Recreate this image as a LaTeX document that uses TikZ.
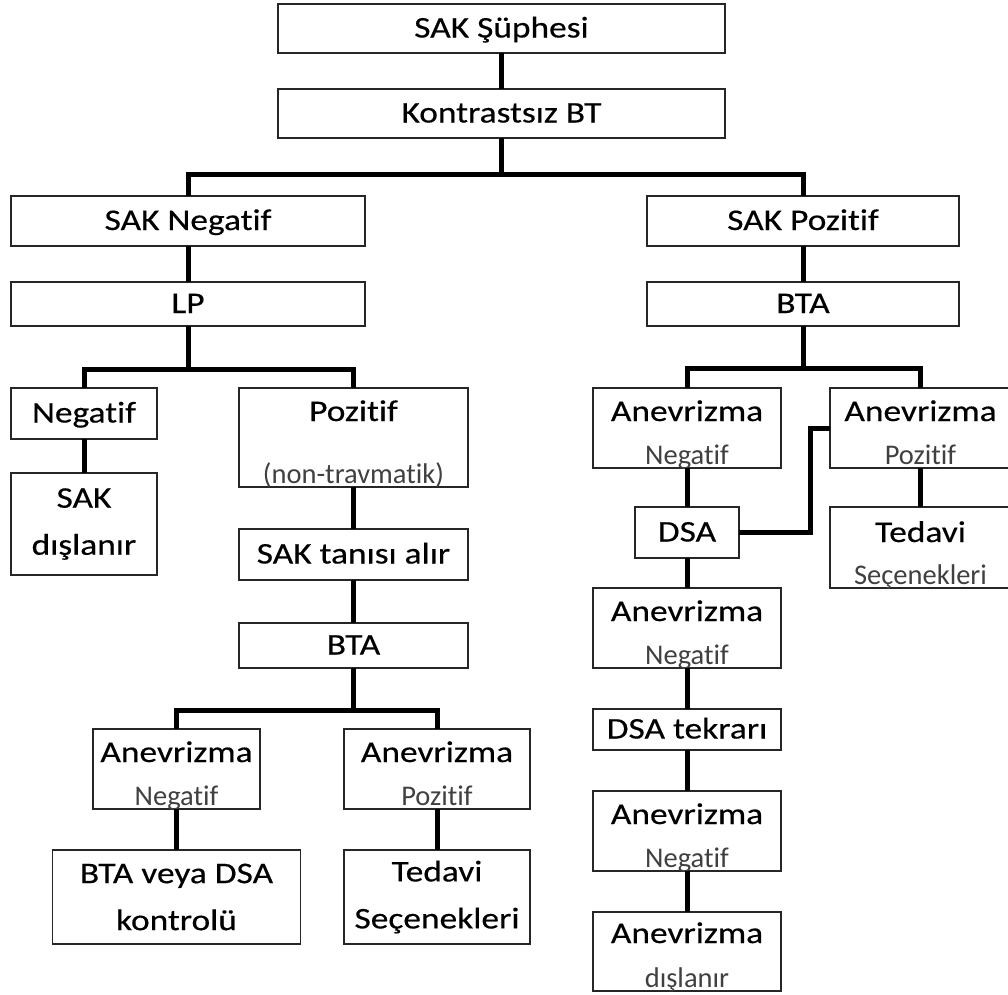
\documentclass[tikz,border=0pt]{standalone}
\usepackage{fontspec}
\setmainfont{Carlito}[FakeStretch=1.18, FakeBold=0.4, Ligatures=NoCommon]
\newfontfamily\subfont{Carlito}[Ligatures=NoCommon]
\usetikzlibrary{positioning}

\begin{document}
\begin{tikzpicture}[x=1pt, y=1pt,
                    box/.style={rectangle, draw=black!85, line width=1.6pt, outer sep=0pt, inner xsep=2pt, inner ysep=0pt, font=\fontsize{30}{47}\selectfont},
                    one/.style={box, text height=22pt, text depth=4pt},
                    two/.style={box, align=center},
                    head/.style={box, text height=33pt, text depth=47pt},
                    sub/.style={inner sep=0pt, outer sep=0pt, text height=20pt, text depth=6pt, yshift=24pt, text=black!75, font=\subfont\fontsize{28.5}{30}\selectfont},
                    link/.style={line width=5pt}]
    \useasboundingbox (0,0) rectangle (1008,-994);
    % nodes
    \node[one, minimum width=447pt, minimum height=49pt]   (sus)   [anchor=north] at (501.5,-4)   {SAK Şüphesi};
    \node[one, minimum width=447pt, minimum height=49pt]   (ct)    [below=36pt of sus]            {Kontrastsız BT};
    \node[one, minimum width=354pt, minimum height=50pt]   (neg)   [anchor=north] at (188,-196)   {SAK Negatif};
    \node[one, minimum width=312pt, minimum height=50pt]   (pos)   [right=282pt of neg]           {SAK Pozitif};
    \node[one, minimum width=354pt, minimum height=44pt]   (lp)    [below=36pt of neg]            {LP};
    \node[one, minimum width=312pt, minimum height=44pt]   (bta)   [below=36pt of pos]            {BTA};
    % left branch
    \node[one, minimum width=146pt, minimum height=51pt]   (lpneg) [anchor=north] at (84,-388)    {Negatif};
    \node[two, minimum width=146pt, minimum height=102pt]  (sakout) [below=34pt of lpneg]         {SAK\\dışlanır};
    \node[head, minimum width=229pt, text depth=66pt, label={[sub]below:(non-travmatik)}] (lppos) [anchor=north] at (353.5,-388) {Pozitif};
    \node[one, minimum width=229pt, minimum height=51pt]   (diag)  [below=42pt of lppos]          {SAK tanısı alır};
    \node[one, minimum width=229pt, minimum height=45pt]   (btal)  [below=43pt of diag]           {BTA};
    \node[head, minimum width=167pt, label={[sub]below:Negatif}] (anegA) [anchor=north] at (176.5,-729) {Anevrizma};
    \node[two, minimum width=248pt, minimum height=94pt]   (ctrlA) [below=41pt of anegA]          {BTA veya DSA\\kontrolü};
    \node[head, minimum width=186pt, label={[sub]below:Pozitif}] (aposA) [anchor=north] at (437,-729) {Anevrizma};
    \node[two, minimum width=186pt, minimum height=94pt]   (treatA) [below=41pt of aposA]         {Tedavi\\Seçenekleri};
    % right branch
    \node[head, minimum width=188pt, label={[sub]below:Negatif}] (anegB) [anchor=north] at (687,-388) {Anevrizma};
    \node[head, minimum width=181pt, label={[sub]below:Pozitif}] (aposB) [anchor=north] at (920.5,-388) {Anevrizma};
    \node[one, minimum width=104pt, minimum height=51pt]   (dsa)   [below=39pt of anegB]          {DSA};
    \node[head, minimum width=181pt, text height=35pt, text depth=46pt, label={[sub]below:Seçenekleri}] (treatB) [below=39pt of aposB] {Tedavi};
    \node[head, minimum width=188pt, label={[sub]below:Negatif}] (anegC) [below=30pt of dsa]   {Anevrizma};
    \node[one, minimum width=188pt, minimum height=41pt]   (rep)   [below=41pt of anegC]          {DSA tekrarı};
    \node[head, minimum width=188pt, label={[sub]below:Negatif}] (anegD) [below=41pt of rep]   {Anevrizma};
    \node[head, minimum width=188pt, text height=31pt, text depth=48pt, label={[sub]below:dışlanır}] (aout) [below=41pt of anegD] {Anevrizma};
    % lines
    \draw[link] (sus.south) -- (ct.north);
    \draw[link] (ct.south) -- ++(0,-36) coordinate (jtop);
    \draw[link] (neg.north) |- (jtop) -| (pos.north);
    \draw[link] (neg.south) -- (lp.north);
    \draw[link] (pos.south) -- (bta.north);
    \draw[link] (lp.south) -- ++(0,-43) coordinate (jlp);
    \draw[link] (lpneg.north) |- (jlp) -| (lppos.north);
    \draw[link] (lpneg.south) -- (sakout.north);
    \draw[link] (lppos.south) -- (diag.north);
    \draw[link] (diag.south) -- (btal.north);
    \draw[link] (btal.south) -- ++(0,-42) coordinate (jbtal);
    \draw[link] (anegA.north) |- (jbtal) -| (aposA.north);
    \draw[link] (anegA.south) -- (ctrlA.north);
    \draw[link] (aposA.south) -- (treatA.north);
    \draw[link] (bta.south) -- ++(0,-42) coordinate (jbta);
    \draw[link] (anegB.north) |- (jbta) -| (aposB.north);
    \draw[link] (anegB.south) -- (dsa.north);
    \draw[link] (dsa.east) -- ++(71,0) |- (aposB.west);
    \draw[link] (aposB.south) -- (treatB.north);
    \draw[link] (dsa.south) -- (anegC.north);
    \draw[link] (anegC.south) -- (rep.north);
    \draw[link] (rep.south) -- (anegD.north);
    \draw[link] (anegD.south) -- (aout.north);
\end{tikzpicture}
\end{document}
